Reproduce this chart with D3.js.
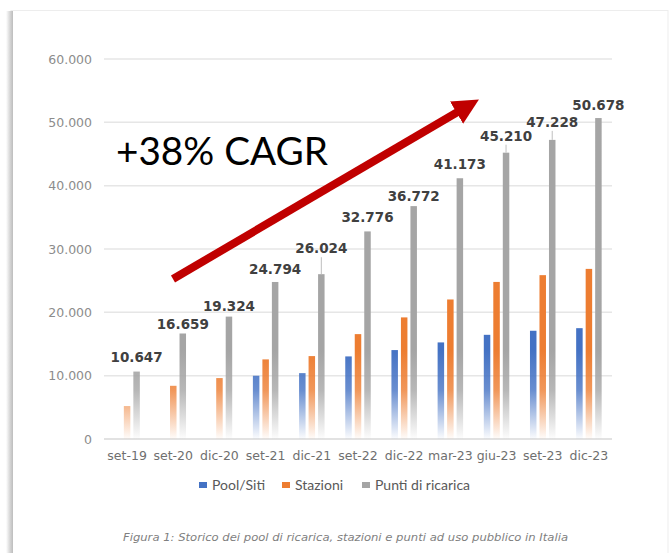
<!DOCTYPE html>
<html>
<head>
<meta charset="utf-8">
<script src="https://cdn.jsdelivr.net/npm/d3@7"></script>
<style>
  body { margin: 0; background: #fff; }
  svg { display: block; }
</style>
</head>
<body>
<script>
var W = 671, H = 553;

// data
var categories = ["set-19","set-20","dic-20","set-21","dic-21","set-22","dic-22","mar-23","giu-23","set-23","dic-23"];
var poolSiti  = [null, null, null, 9990, 10400, 13040, 14040, 15250, 16450, 17090, 17500];
var stazioni  = [5200, 8400, 9620, 12570, 13090, 16560, 19200, 22030, 24800, 25870, 26860];
var punti     = [10647, 16659, 19324, 24794, 26024, 32776, 36772, 41173, 45210, 47228, 50678];
var yTicks    = [0, 10000, 20000, 30000, 40000, 50000, 60000];
var seriesNames = ["Pool/Siti", "Stazioni", "Punti di ricarica"];
var caption = "Figura 1: Storico dei pool di ricarica, stazioni e punti ad uso pubblico in Italia";
var cagrText = "+38% CAGR";

// label placement (pixels above bar top), and which labels get a leader line
var labelLift = [10, 4, 6, 8, 21, 9, 5, 9, 12, 13, 8];
var hasLeader = [false, false, false, false, true, false, false, false, true, true, false];

var colors = ["#4472C4", "#ED7D31", "#A5A5A5"];
var series = [poolSiti, stazioni, punti];

var fmt = function(v){ return d3.format(",")(v).replace(/,/g, "."); };

var svg = d3.select("body").append("svg")
    .attr("width", W)
    .attr("height", H);

var defs = svg.append("defs");

// card with soft left shadow
var sh = defs.append("linearGradient").attr("id", "leftShadow")
    .attr("x1", 0).attr("x2", 1).attr("y1", 0).attr("y2", 0);
sh.append("stop").attr("offset", 0).attr("stop-color", "#fff");
sh.append("stop").attr("offset", 0.6).attr("stop-color", "#d4d4d4");
sh.append("stop").attr("offset", 1).attr("stop-color", "#bdbdbd");

svg.append("rect").attr("x", 0).attr("y", 0).attr("width", W).attr("height", H).attr("fill", "#fff");
svg.append("rect")
    .attr("x", 11).attr("y", 10.5).attr("width", 657).attr("height", 560)
    .attr("fill", "#fff").attr("stroke", "#ededed").attr("stroke-width", 1);
svg.append("rect").attr("x", 6).attr("y", 11).attr("width", 7).attr("height", H - 11)
    .attr("fill", "url(#leftShadow)");

var y = d3.scaleLinear().domain([0, 60000]).range([439, 59]);
var x = d3.scaleBand().domain(categories).range([104, 612]);
var bw = x.bandwidth();
var x1 = d3.scaleBand().domain(seriesNames)
    .range([bw / 2 - 12.75, bw / 2 + 12.75])
    .paddingInner(0.316);

// fade-to-white bottoms
colors.forEach(function(c, i){
  var g = defs.append("linearGradient").attr("id", "fade" + i)
      .attr("gradientUnits", "userSpaceOnUse")
      .attr("x1", 0).attr("x2", 0).attr("y1", y(14000)).attr("y2", y(0));
  g.append("stop").attr("offset", 0).attr("stop-color", c).attr("stop-opacity", 1);
  g.append("stop").attr("offset", 0.45).attr("stop-color", c).attr("stop-opacity", 0.8);
  g.append("stop").attr("offset", 1).attr("stop-color", c).attr("stop-opacity", 0.02);
});

// grid + y labels
var grid = svg.append("g");
grid.selectAll("line").data(yTicks).enter().append("line")
    .attr("x1", 104).attr("x2", 612)
    .attr("y1", function(d){ return y(d); })
    .attr("y2", function(d){ return y(d); })
    .attr("stroke", function(d){ return d === 0 ? "#d9d9d9" : "#e6e6e6"; })
    .attr("stroke-width", 1.5);

grid.selectAll("text").data(yTicks).enter().append("text")
    .attr("x", 92)
    .attr("y", function(d){ return y(d) + 4.5; })
    .attr("text-anchor", "end")
    .attr("font-family", "DejaVu Sans, sans-serif")
    .attr("font-size", 12.5)
    .attr("fill", "#8c8c8c")
    .text(function(d){ return fmt(d); });

// bars
var groups = svg.selectAll(".grp").data(categories).enter().append("g")
    .attr("class", "grp")
    .attr("transform", function(d){ return "translate(" + x(d) + ",0)"; });

groups.selectAll("rect")
    .data(function(d, i){
      return series.map(function(s, k){ return {k: k, v: s[i]}; })
        .filter(function(e){ return e.v != null; });
    })
    .enter().append("rect")
    .attr("x", function(e){ return x1(seriesNames[e.k]); })
    .attr("width", x1.bandwidth())
    .attr("y", function(e){ return y(e.v); })
    .attr("height", function(e){ return y(0) - y(e.v); })
    .attr("fill", function(e){ return "url(#fade" + e.k + ")"; });

// value labels on Punti di ricarica
var gx = function(i){ return x(categories[i]) + x1(seriesNames[2]) + x1.bandwidth() / 2; };

svg.append("g").selectAll("line").data(punti).enter()
    .filter(function(d, i){ return hasLeader[i]; })
    .append("line")
    .attr("x1", function(d){ return gx(punti.indexOf(d)); })
    .attr("x2", function(d){ return gx(punti.indexOf(d)); })
    .attr("y1", function(d){ return y(d) - labelLift[punti.indexOf(d)] + 4; })
    .attr("y2", function(d){ return y(d); })
    .attr("stroke", "#bfbfbf").attr("stroke-width", 1);

svg.append("g").selectAll("text").data(punti).enter().append("text")
    .attr("x", function(d, i){ return gx(i); })
    .attr("y", function(d, i){ return y(d) - labelLift[i]; })
    .attr("text-anchor", "middle")
    .attr("font-family", "DejaVu Sans, sans-serif")
    .attr("font-weight", "bold")
    .attr("font-size", 13.5)
    .attr("fill", "#404040")
    .text(function(d){ return fmt(d); });

// x labels
svg.append("g").selectAll("text").data(categories).enter().append("text")
    .attr("x", function(d){ return x(d) + bw / 2; })
    .attr("y", 460)
    .attr("text-anchor", "middle")
    .attr("font-family", "DejaVu Sans, sans-serif")
    .attr("font-size", 12.5)
    .attr("fill", "#6f6f6f")
    .text(function(d){ return d; });

// legend
var legX = [199, 282, 362];
var leg = svg.append("g").selectAll("g").data(seriesNames).enter().append("g")
    .attr("transform", function(d, i){ return "translate(" + legX[i] + ",0)"; });
leg.append("rect").attr("x", 0).attr("y", 482).attr("width", 8).attr("height", 6)
    .attr("fill", function(d, i){ return colors[i]; });
leg.append("text").attr("x", 13).attr("y", 490)
    .attr("font-family", "Lato, sans-serif").attr("font-size", 14)
    .attr("fill", "#595959")
    .text(function(d){ return d; });

// caption
svg.append("text")
    .attr("x", 123).attr("y", 541)
    .attr("font-family", "DejaVu Sans, sans-serif")
    .attr("font-style", "italic")
    .attr("font-size", 11)
    .attr("fill", "#7f7f7f")
    .attr("textLength", 445)
    .attr("lengthAdjust", "spacingAndGlyphs")
    .text(caption);

// CAGR arrow
defs.append("marker").attr("id", "head")
    .attr("viewBox", "0 0 10 10").attr("refX", 2).attr("refY", 5)
    .attr("markerUnits", "userSpaceOnUse")
    .attr("markerWidth", 26).attr("markerHeight", 26)
    .attr("orient", "auto")
  .append("path").attr("d", "M0,0 L10,5 L0,10 Z").attr("fill", "#C00000");

svg.append("line")
    .attr("x1", 173).attr("y1", 279)
    .attr("x2", 461).attr("y2", 110)
    .attr("stroke", "#C00000").attr("stroke-width", 8)
    .attr("marker-end", "url(#head)");

svg.append("text")
    .attr("x", 116).attr("y", 165)
    .attr("font-family", "Lato, sans-serif")
    .attr("font-size", 38)
    .attr("fill", "#000")
    .attr("textLength", 212)
    .attr("lengthAdjust", "spacingAndGlyphs")
    .text(cagrText);
</script>
</body>
</html>
